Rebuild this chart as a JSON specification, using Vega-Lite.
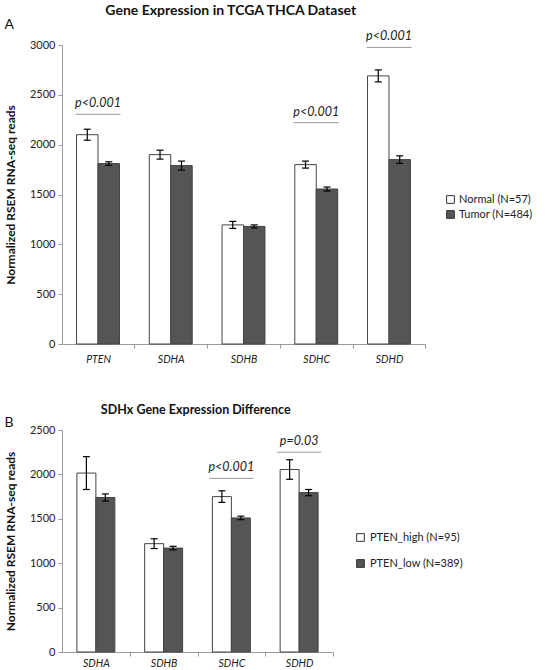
{
  "$schema": "https://vega.github.io/schema/vega-lite/v6.json",
  "padding": {"left": 4, "top": 3, "right": 2, "bottom": 0},
  "background": "white",
  "config": {
    "font": "Lato",
    "view": {"stroke": null},
    "title": {"font": "Lato", "fontWeight": "bold", "fontSize": 14, "color": "#111"},
    "axis": {"labelFont": "Lato", "titleFont": "Lato", "domainColor": "#999", "tickColor": "#999", "labelColor": "#222", "titleColor": "#111", "grid": false},
    "legend": {"labelFont": "Lato"}
  },
  "resolve": {"scale": {"color": "independent", "xOffset": "independent", "x": "independent", "y": "independent"}, "legend": {"color": "independent"}},
  "spacing": 38,
  "vconcat": [
    {
      "title": {"text": "Gene Expression in TCGA THCA Dataset", "anchor": "middle", "offset": 0, "dx": -38},
      "vconcat": [
        {
          "title": {"text": "A", "anchor": "start", "frame": "bounds", "fontWeight": "normal", "fontSize": 14, "offset": -2},
          "width": 363,
          "height": 299,
          "data": {"values": [
            {"gene": "PTEN", "group": "Normal (N=57)", "value": 2100, "lo": 2045, "hi": 2155},
            {"gene": "PTEN", "group": "Tumor (N=484)", "value": 1810, "lo": 1792, "hi": 1828},
            {"gene": "SDHA", "group": "Normal (N=57)", "value": 1900, "lo": 1855, "hi": 1945},
            {"gene": "SDHA", "group": "Tumor (N=484)", "value": 1790, "lo": 1745, "hi": 1835},
            {"gene": "SDHB", "group": "Normal (N=57)", "value": 1195, "lo": 1160, "hi": 1230},
            {"gene": "SDHB", "group": "Tumor (N=484)", "value": 1180, "lo": 1165, "hi": 1195},
            {"gene": "SDHC", "group": "Normal (N=57)", "value": 1800, "lo": 1765, "hi": 1835},
            {"gene": "SDHC", "group": "Tumor (N=484)", "value": 1555, "lo": 1535, "hi": 1575},
            {"gene": "SDHD", "group": "Normal (N=57)", "value": 2690, "lo": 2630, "hi": 2750},
            {"gene": "SDHD", "group": "Tumor (N=484)", "value": 1850, "lo": 1812, "hi": 1888}
          ]},
          "encoding": {
            "x": {"field": "gene", "type": "nominal", "sort": null, "title": null,
              "scale": {"paddingInner": 0.41, "paddingOuter": 0.2},
              "axis": {"labelAngle": 0, "labelFontStyle": "italic", "labelFontSize": 10.5, "tickSize": 4, "labelPadding": 6, "tickOffset": 36.3, "labelOffset": -36.3}}
          },
          "layer": [
            {
              "encoding": {
                "xOffset": {"field": "group", "type": "nominal", "sort": null, "scale": {"paddingInner": 0, "paddingOuter": 0}}
              },
              "layer": [
                {
                  "mark": {"type": "bar", "stroke": "#444", "strokeWidth": 1},
                  "encoding": {
                    "y": {"field": "value", "type": "quantitative", "title": "Normalized RSEM RNA-seq reads",
                      "scale": {"domain": [0, 3000], "nice": false},
                      "axis": {"values": [0, 500, 1000, 1500, 2000, 2500, 3000], "format": "d", "labelFontSize": 11, "tickSize": 4, "labelPadding": 3, "titleFontSize": 12, "titleFontWeight": "bold", "titlePadding": 12}},
                    "color": {"field": "group", "type": "nominal", "sort": null,
                      "scale": {"domain": ["Normal (N=57)", "Tumor (N=484)"], "range": ["#ffffff", "#555555"]},
                      "legend": {"title": null, "orient": "none", "legendX": 383, "legendY": 149, "symbolType": "square", "symbolSize": 60, "symbolStrokeColor": "#333", "symbolStrokeWidth": 1, "labelFontSize": 11, "labelColor": "#222", "rowPadding": 2, "labelOffset": 3}}
                  }
                },
                {
                  "mark": {"type": "rule", "color": "#000", "strokeWidth": 1.2},
                  "encoding": {"y": {"field": "lo", "type": "quantitative"}, "y2": {"field": "hi"}}
                },
                {
                  "mark": {"type": "point", "shape": "M -1 0 L 1 0", "filled": false, "stroke": "#000", "strokeWidth": 1.2, "size": 49, "opacity": 1},
                  "encoding": {"y": {"field": "hi", "type": "quantitative"}}
                },
                {
                  "mark": {"type": "point", "shape": "M -1 0 L 1 0", "filled": false, "stroke": "#000", "strokeWidth": 1.2, "size": 49, "opacity": 1},
                  "encoding": {"y": {"field": "lo", "type": "quantitative"}}
                }
              ]
            },
            {
              "data": {"values": [
                {"gene": "PTEN", "label": "p<0.001", "ytext": 2422, "yline": 2305},
                {"gene": "SDHC", "label": "p<0.001", "ytext": 2328, "yline": 2221},
                {"gene": "SDHD", "label": "p<0.001", "ytext": 3091, "yline": 2976}
              ]},
              "layer": [
                {
                  "mark": {"type": "text", "fontStyle": "italic", "fontSize": 12.5, "color": "#222", "baseline": "middle"},
                  "encoding": {"y": {"field": "ytext", "type": "quantitative"}, "text": {"field": "label"}}
                },
                {
                  "mark": {"type": "point", "shape": "M -1 0 L 1 0", "filled": false, "stroke": "#999", "strokeWidth": 1, "size": 2025, "opacity": 1},
                  "encoding": {"y": {"field": "yline", "type": "quantitative"}}
                }
              ]
            }
          ]
        }
      ]
    },
    {
      "title": {"text": "SDHx Gene Expression Difference", "anchor": "middle", "offset": 0, "dx": -38, "fontSize": 12.5},
      "vconcat": [
        {
          "title": {"text": "B", "anchor": "start", "frame": "bounds", "fontWeight": "normal", "fontSize": 14, "offset": -6},
          "width": 271,
          "height": 222,
          "data": {"values": [
            {"gene": "SDHA", "group": "PTEN_high (N=95)", "value": 2015, "lo": 1830, "hi": 2200},
            {"gene": "SDHA", "group": "PTEN_low (N=389)", "value": 1740, "lo": 1700, "hi": 1780},
            {"gene": "SDHB", "group": "PTEN_high (N=95)", "value": 1220, "lo": 1165, "hi": 1275},
            {"gene": "SDHB", "group": "PTEN_low (N=389)", "value": 1170, "lo": 1150, "hi": 1190},
            {"gene": "SDHC", "group": "PTEN_high (N=95)", "value": 1750, "lo": 1685, "hi": 1815},
            {"gene": "SDHC", "group": "PTEN_low (N=389)", "value": 1510, "lo": 1490, "hi": 1530},
            {"gene": "SDHD", "group": "PTEN_high (N=95)", "value": 2055, "lo": 1945, "hi": 2165},
            {"gene": "SDHD", "group": "PTEN_low (N=389)", "value": 1795, "lo": 1760, "hi": 1830}
          ]},
          "encoding": {
            "x": {"field": "gene", "type": "nominal", "sort": null, "title": null,
              "scale": {"paddingInner": 0.44, "paddingOuter": 0.22},
              "axis": {"labelAngle": 0, "labelFontStyle": "italic", "labelFontSize": 10.5, "tickSize": 4, "labelPadding": 2, "tickOffset": 33.9, "labelOffset": -33.9}}
          },
          "layer": [
            {
              "encoding": {
                "xOffset": {"field": "group", "type": "nominal", "sort": null, "scale": {"paddingInner": 0, "paddingOuter": 0}}
              },
              "layer": [
                {
                  "mark": {"type": "bar", "stroke": "#444", "strokeWidth": 1},
                  "encoding": {
                    "y": {"field": "value", "type": "quantitative", "title": "Normalized RSEM RNA-seq reads",
                      "scale": {"domain": [0, 2500], "nice": false},
                      "axis": {"values": [0, 500, 1000, 1500, 2000, 2500], "format": "d", "labelFontSize": 11, "tickSize": 4, "labelPadding": 3, "titleFontSize": 12, "titleFontWeight": "bold", "titlePadding": 12}},
                    "color": {"field": "group", "type": "nominal", "sort": null,
                      "scale": {"domain": ["PTEN_high (N=95)", "PTEN_low (N=389)"], "range": ["#ffffff", "#555555"]},
                      "legend": {"title": null, "orient": "none", "legendX": 293, "legendY": 102, "symbolType": "square", "symbolSize": 60, "symbolStrokeColor": "#333", "symbolStrokeWidth": 1, "labelFontSize": 11, "labelColor": "#222", "rowPadding": 13, "labelOffset": 4}}
                  }
                },
                {
                  "mark": {"type": "rule", "color": "#000", "strokeWidth": 1.2},
                  "encoding": {"y": {"field": "lo", "type": "quantitative"}, "y2": {"field": "hi"}}
                },
                {
                  "mark": {"type": "point", "shape": "M -1 0 L 1 0", "filled": false, "stroke": "#000", "strokeWidth": 1.2, "size": 49, "opacity": 1},
                  "encoding": {"y": {"field": "hi", "type": "quantitative"}}
                },
                {
                  "mark": {"type": "point", "shape": "M -1 0 L 1 0", "filled": false, "stroke": "#000", "strokeWidth": 1.2, "size": 49, "opacity": 1},
                  "encoding": {"y": {"field": "lo", "type": "quantitative"}}
                }
              ]
            },
            {
              "data": {"values": [
                {"gene": "SDHC", "label": "p<0.001", "ytext": 2078, "yline": 1955},
                {"gene": "SDHD", "label": "p=0.03", "ytext": 2377, "yline": 2250}
              ]},
              "layer": [
                {
                  "mark": {"type": "text", "fontStyle": "italic", "fontSize": 12.5, "color": "#222", "baseline": "middle"},
                  "encoding": {"y": {"field": "ytext", "type": "quantitative"}, "text": {"field": "label"}}
                },
                {
                  "mark": {"type": "point", "shape": "M -1 0 L 1 0", "filled": false, "stroke": "#999", "strokeWidth": 1, "size": 1936, "opacity": 1},
                  "encoding": {"y": {"field": "yline", "type": "quantitative"}}
                }
              ]
            }
          ]
        }
      ]
    }
  ]
}
